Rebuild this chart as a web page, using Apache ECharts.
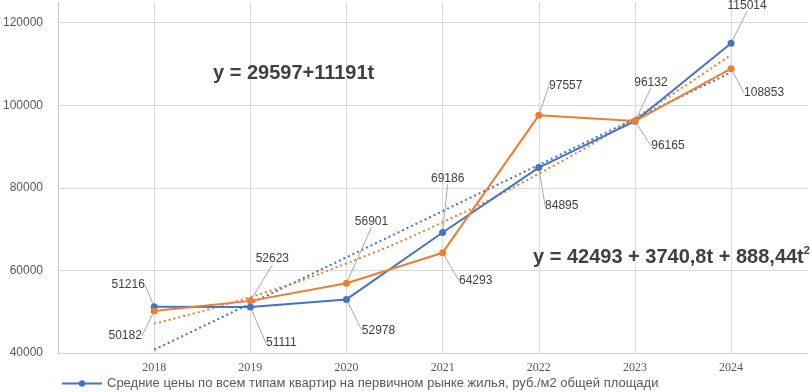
<!DOCTYPE html>
<html>
<head>
<meta charset="utf-8">
<script src="https://cdn.jsdelivr.net/npm/echarts@6/dist/echarts.min.js"></script>
<style>html,body{margin:0;padding:0;background:#fff}#c{width:811px;height:392px}</style>
</head>
<body>
<div id="c"></div>
<script>
const years = [2018, 2019, 2020, 2021, 2022, 2023, 2024];
const bluePrices = [51216, 51111, 52978, 69186, 84895, 96132, 115014];
const orangePrices = [50182, 52623, 56901, 64293, 97557, 96165, 108853];
const linearTrendYears = [2018, 2024];
const linearTrendValues = [40788, 107934];
const polyTrendValues = [47122, 53528, 61711, 71671, 83408, 96922, 112212];
const yTicks = [40000, 60000, 80000, 100000, 120000];

const blueName = 'Средние цены по всем типам квартир на первичном рынке жилья, руб./м2 общей площади';
const orangeName = 'Средние цены по всем типам квартир на вторичном рынке жилья, руб./м2 общей площади';

// label offsets (px) from the marker
const blueLabelOffsets = [[-26,-22],[31,36],[32,31],[5,-54],[23,38],[16,-39],[16,-38]];
const orangeLabelOffsets = [[-29,25],[22,-42],[25,-62],[33,28],[27,-30],[33,25],[33,24]];

const BLUE = '#4472C4', ORANGE = '#ED7D31';
const FONT = 'Liberation Sans';

function pairs(xs, ys) { return xs.map((x, i) => [x, ys[i]]); }

const chart = echarts.init(document.getElementById('c'), null, {renderer: 'canvas'});

function lineSeries(name, values, color, offsets) {
  return {
    name: name,
    type: 'line',
    data: pairs(years, values),
    symbol: 'circle',
    symbolSize: 7,
    z: 5,
    lineStyle: {color: color, width: 2},
    itemStyle: {color: color},
    label: {
      show: true,
      position: 'inside',
      color: '#404040',
      fontSize: 12,
      fontFamily: FONT,
      formatter: p => String(p.value[1])
    },
    labelLine: {show: true, lineStyle: {color: '#a6a6a6', width: 1}},
    labelLayout: p => ({dx: offsets[p.dataIndex][0], dy: offsets[p.dataIndex][1]}),
    emphasis: {disabled: true},
    animation: false
  };
}

chart.setOption({
  animation: false,
  grid: {left: 58, right: 0, top: 2, bottom: 39, containLabel: false},
  xAxis: {
    type: 'value',
    min: 2017, max: 2024.8, interval: 1,
    axisLine: {show: true, lineStyle: {color: '#d0d0d0', width: 1}},
    axisTick: {show: false},
    splitLine: {show: true, showMaxLine: false, lineStyle: {color: '#d9d9d9', width: 1}},
    axisLabel: {
      color: '#595959', fontSize: 12, fontFamily: 'Liberation Serif', margin: 9,
      formatter: v => years.indexOf(v) >= 0 ? String(v) : ''
    }
  },
  yAxis: {
    type: 'value',
    min: 40000, max: 125000, interval: 20000,
    axisLine: {show: true, lineStyle: {color: '#c8c8c8', width: 1}},
    axisTick: {show: false},
    splitLine: {show: true, showMaxLine: false, lineStyle: {color: '#d9d9d9', width: 1}},
    axisLabel: {
      color: '#595959', fontSize: 12, fontFamily: FONT, margin: 15,
      formatter: v => yTicks.indexOf(v) >= 0 ? String(v) : ''
    }
  },
  legend: {
    data: [blueName],
    left: 61, top: 377,
    itemWidth: 40, itemHeight: 8, itemGap: 10,
    padding: 0,
    textStyle: {color: '#595959', fontSize: 13, fontFamily: FONT}
  },
  graphic: [
    {type: 'text', left: 213, top: 63, z: 10,
     style: {text: 'y = 29597+11191t', font: 'bold 20px "Liberation Sans"', fill: '#404040'}},
    {type: 'text', left: 533, top: 245, z: 10,
     style: {
       text: '{a|y = 42493 + 3740,8t + 888,44t}{s|2}',
       rich: {
         a: {fontSize: 20, fontWeight: 'bold', fontFamily: FONT, fill: '#404040', color: '#404040', lineHeight: 24, verticalAlign: 'middle'},
         s: {fontSize: 11, fontWeight: 'bold', fontFamily: FONT, fill: '#404040', color: '#404040', lineHeight: 24, verticalAlign: 'top'}
       }
     }}
  ],
  series: [
    {
      name: 'Линейный тренд',
      type: 'line',
      data: pairs(linearTrendYears, linearTrendValues),
      symbol: 'none',
      z: 3,
      lineStyle: {color: BLUE, width: 2, type: [2, 3]},
      emphasis: {disabled: true},
      silent: true
    },
    {
      name: 'Полиномиальный тренд',
      type: 'line',
      data: pairs(years, polyTrendValues),
      smooth: true,
      symbol: 'none',
      z: 3,
      lineStyle: {color: ORANGE, width: 2, type: [2, 3]},
      emphasis: {disabled: true},
      silent: true
    },
    lineSeries(blueName, bluePrices, BLUE, blueLabelOffsets),
    lineSeries(orangeName, orangePrices, ORANGE, orangeLabelOffsets)
  ]
});
</script>
</body>
</html>
